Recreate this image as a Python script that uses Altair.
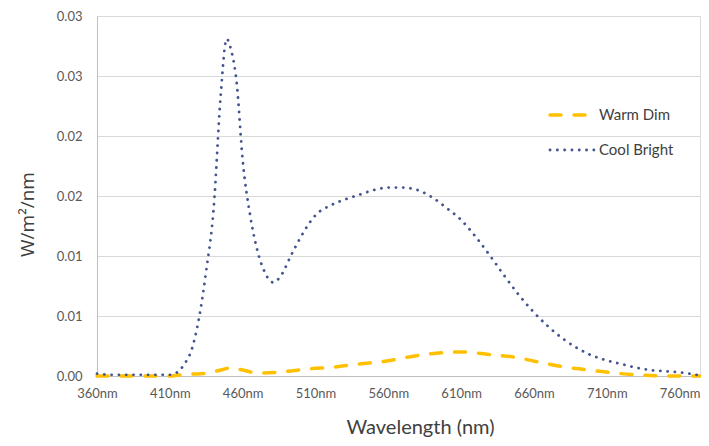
import altair as alt
import pandas as pd

series = ["Warm Dim", "Cool Bright"]
series_colors = ["#FFC000", "#44548E"]
series_dash = [[11, 13], [0.1, 7.2]]
series_width = [3.5, 2.8]

warm_nm = [360, 380, 400, 410, 416, 425, 436, 445, 452, 460, 470, 486, 504, 523, 540,
           559, 574, 593, 611, 629, 646, 663, 681, 698, 715, 734, 753, 774]
warm_dim = [0.0, 0.0, 0.0, 0.0, 0.00008, 0.00015, 0.00025, 0.0005, 0.00067, 0.0005, 0.00025,
            0.00033, 0.00058, 0.00075, 0.001, 0.00125, 0.00158, 0.0019, 0.002, 0.0018,
            0.00158, 0.00117, 0.00075, 0.0005, 0.00025, 0.00008, 0.0, 0.0]

cool_nm = [360, 370, 380, 390, 400, 410, 415, 420, 425, 430, 435, 440, 445, 449, 452, 456,
           460, 465, 470, 475, 481, 487, 493, 500, 510, 520, 530, 540, 550, 560, 570, 580,
           590, 600, 610, 620, 630, 640, 650, 660, 670, 680, 690, 700, 710, 720, 730, 740,
           750, 760, 774]
cool_bright = [0.0002, 0.0001, 0.0001, 0.0001, 0.0001, 0.0001, 0.0003, 0.001, 0.0022, 0.0048,
               0.0088, 0.0138, 0.0235, 0.0281, 0.0272, 0.0243, 0.018, 0.0135, 0.0105, 0.0087,
               0.0078, 0.0085, 0.01, 0.0116, 0.0134, 0.0142, 0.0147, 0.0151, 0.0155, 0.0157,
               0.0157, 0.0155, 0.0149, 0.014, 0.013, 0.0116, 0.01, 0.0083, 0.0067, 0.0053,
               0.0041, 0.0031, 0.0023, 0.0017, 0.0013, 0.001, 0.0007, 0.0005, 0.0004, 0.0003,
               0.00005]

x_ticks = [360, 410, 460, 510, 560, 610, 660, 710, 760]
y_ticks = [0, 0.005, 0.01, 0.015, 0.02, 0.025, 0.03]
y_tick_labels = ["0.00", "0.01", "0.01", "0.02", "0.02", "0.03", "0.03"]

rows = []
for n, v in zip(warm_nm, warm_dim):
    rows.append({"nm": n, "value": v, "series": series[0]})
for n, v in zip(cool_nm, cool_bright):
    rows.append({"nm": n, "value": v, "series": series[1]})
df = pd.DataFrame(rows)
legend_df = pd.DataFrame({"series": series})

FONT = "Lato"
y_label_expr = "[" + ",".join("'%s'" % s for s in y_tick_labels) + "][round(datum.value / 0.005)]"

x_enc = alt.X("nm:Q",
              scale=alt.Scale(domain=[360, 774], nice=False, zero=False),
              axis=alt.Axis(values=x_ticks, labelExpr="datum.value + 'nm'",
                            title="Wavelength (nm)", grid=False, ticks=False,
                            domainColor="#BFBFBF", labelFlush=False, labelOverlap=False,
                            labelFont=FONT, labelFontSize=13, labelColor="#595959",
                            labelPadding=11,
                            titleFont=FONT, titleFontSize=20, titleFontWeight="normal",
                            titleColor="#404040", titleX=323, titleY=57,
                            titleBaseline="alphabetic", titleAlign="center"))
y_enc = alt.Y("value:Q",
              scale=alt.Scale(domain=[0, 0.03], nice=False),
              axis=alt.Axis(values=y_ticks, labelExpr=y_label_expr,
                            title="W/m²/nm", ticks=False, domainColor="#BFBFBF",
                            gridColor="#D9D9D9", labelFont=FONT, labelFontSize=13,
                            labelColor="#595959", labelPadding=15,
                            titleFont="Open Sans", titleFontSize=19, titleFontWeight="normal",
                            titleColor="#404040", titleX=-64, titleY=198, titleAngle=270,
                            titleBaseline="alphabetic", titleAlign="center"))

layers = []
for i, s in enumerate(series):
    line = alt.Chart(df).transform_filter(alt.datum.series == s).mark_line(
        interpolate="monotone", strokeCap="round", strokeJoin="round",
        color=series_colors[i], strokeDash=series_dash[i], strokeWidth=series_width[i],
    ).encode(
        x=x_enc if i == 0 else alt.X("nm:Q"),
        y=y_enc if i == 0 else alt.Y("value:Q"),
        order=alt.Order("nm:Q"),
    )
    layers.append(line)

for i, s in enumerate(series):
    row_y = 99 + 35 * i
    sym = alt.Chart(legend_df).transform_filter(alt.datum.series == s).mark_rule(
        strokeCap="round", color=series_colors[i], strokeDash=series_dash[i],
        strokeWidth=series_width[i],
    ).encode(x=alt.value(453), x2=alt.value(497), y=alt.value(row_y))
    txt = alt.Chart(legend_df).transform_filter(alt.datum.series == s).mark_text(
        align="left", baseline="middle", font=FONT, fontSize=15, color="#404040",
    ).encode(x=alt.value(502), y=alt.value(row_y), text="series:N")
    layers += [sym, txt]

chart = alt.layer(*layers).properties(
    width=603, height=360,
    autosize=alt.AutoSizeParams(type="none"),
    padding={"left": 89, "top": 8, "right": 1, "bottom": 62},
).configure_view(stroke=None).configure(background="white")

chart.save("out.html", embed_options={"renderer": "svg", "actions": False})
